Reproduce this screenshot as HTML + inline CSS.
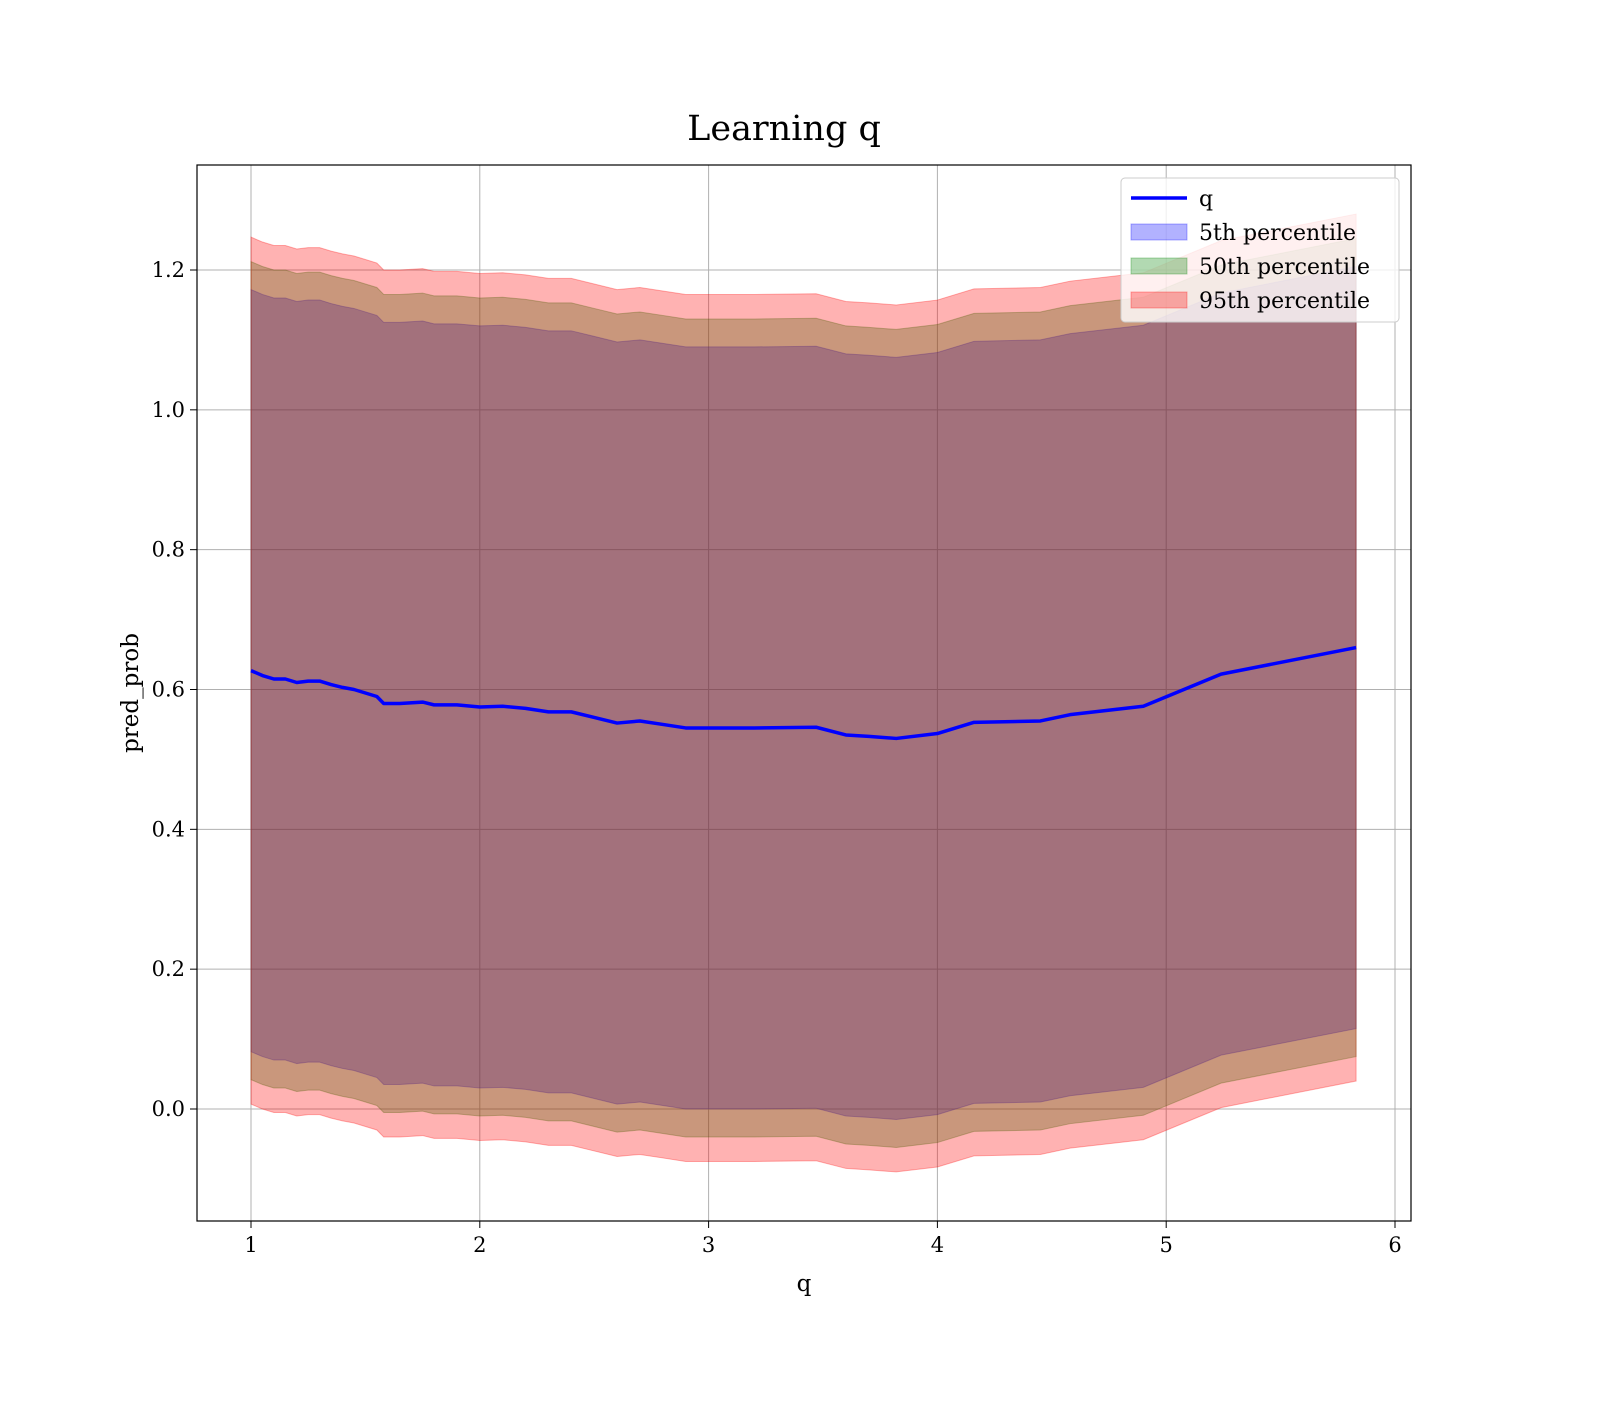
<!DOCTYPE html>
<html><head><meta charset="utf-8"><style>
html,body{margin:0;padding:0;background:#fff;}
svg text{font-family:"DejaVu Serif","Liberation Serif",serif;}
</style></head><body>
<svg id="chart" width="1600" height="1400" xmlns="http://www.w3.org/2000/svg">
<rect width="1600" height="1400" fill="#fff"/>
<text x="784" y="140" font-size="35" text-anchor="middle">Learning q</text>
<g id="grid"></g>
<g id="bands"></g>
<g id="line"></g>
<rect x="197" y="165" width="1214" height="1056" fill="none" stroke="#000" stroke-width="1.2"/>
<g id="ticks"></g>
<text x="804" y="1291" font-size="23" text-anchor="middle">q</text>
<text transform="translate(138,693) rotate(-90)" font-size="23" text-anchor="middle">pred_prob</text>
<g>
<rect x="1121" y="178" width="278" height="144" rx="4" fill="#fff" fill-opacity="0.8" stroke="#ccc"/>
<line x1="1131" y1="198" x2="1187" y2="198" stroke="#0000ff" stroke-width="3.5"/>
<text x="1199" y="206" font-size="22">q</text>
<rect x="1131" y="224" width="56" height="16" fill="#0000ff" fill-opacity="0.3" stroke="#0000ff" stroke-opacity="0.3"/>
<text x="1199" y="240" font-size="22">5th percentile</text>
<rect x="1131" y="258" width="56" height="16" fill="#008000" fill-opacity="0.3" stroke="#008000" stroke-opacity="0.3"/>
<text x="1199" y="274" font-size="22">50th percentile</text>
<rect x="1131" y="292" width="56" height="16" fill="#ff0000" fill-opacity="0.3" stroke="#ff0000" stroke-opacity="0.3"/>
<text x="1199" y="308" font-size="22">95th percentile</text>
</g>
</svg>
<script>
const qValues=[1.0,1.05,1.1,1.15,1.2,1.25,1.3,1.35,1.4,1.45,1.5,1.55,1.58,1.65,1.75,1.8,1.9,2.0,2.1,2.2,2.3,2.4,2.5,2.6,2.7,2.8,2.9,3.0,3.2,3.47,3.6,3.7,3.82,4.0,4.16,4.45,4.58,4.9,5.24,5.83];
const meanValues=[0.627,0.62,0.615,0.615,0.61,0.612,0.612,0.607,0.603,0.60,0.595,0.59,0.58,0.58,0.582,0.578,0.578,0.575,0.576,0.573,0.568,0.568,0.56,0.552,0.555,0.55,0.545,0.545,0.545,0.546,0.535,0.533,0.53,0.537,0.553,0.555,0.564,0.576,0.622,0.66];
const bandHalfWidths=[0.545,0.585,0.62];
const bandNames=['band-5th','band-50th','band-95th'];
const bandColors=['#0000ff','#008000','#ff0000'];
const xTicks=[1,2,3,4,5,6];
const yTicks=[0,0.2,0.4,0.6,0.8,1.0,1.2];
const yTickLabels=['0.0','0.2','0.4','0.6','0.8','1.0','1.2'];
const X=v=>251+(v-1)*228.8;
const Y=v=>1109-v*699.17;
const NS='http://www.w3.org/2000/svg';
function mk(t,a,p){const e=document.createElementNS(NS,t);for(const k in a)e.setAttribute(k,a[k]);p.appendChild(e);return e;}
const grid=document.getElementById('grid'),ticks=document.getElementById('ticks');
xTicks.forEach(t=>{
 const g=mk('line',{x1:X(t),x2:X(t),y1:165,y2:1221,stroke:'#b0b0b0','stroke-width':1},grid);
 
 
 const tk=mk('line',{x1:X(t),x2:X(t),y1:1221,y2:1228,stroke:'#000'},ticks);
 
 
 const tx=mk('text',{x:X(t),y:1252,'font-size':21,'text-anchor':'middle'},ticks);
 tx.textContent=t;
 
 
});
yTicks.forEach((t,i)=>{
 const g=mk('line',{x1:197,x2:1411,y1:Y(t),y2:Y(t),stroke:'#b0b0b0','stroke-width':1},grid);
 
 
 const tk=mk('line',{x1:190,x2:197,y1:Y(t),y2:Y(t),stroke:'#000'},ticks);
 
 
 const tx=mk('text',{x:185,y:Y(t)+7,'font-size':21,'text-anchor':'end'},ticks);
 tx.textContent=yTickLabels[i];
 
 
});
const bands=document.getElementById('bands');
bandHalfWidths.forEach((w,b)=>{
 let up=qValues.map((q,i)=>X(q)+','+Y(meanValues[i]+w));
 let lo=qValues.map((q,i)=>X(q)+','+Y(meanValues[i]-w)).reverse();
 const p=mk('polygon',{points:up.concat(lo).join(' '),fill:bandColors[b],'fill-opacity':0.3,stroke:bandColors[b],'stroke-opacity':0.3},bands);
 
 
});
const ln=mk('polyline',{points:qValues.map((q,i)=>X(q)+','+Y(meanValues[i])).join(' '),fill:'none',stroke:'#0000ff','stroke-width':3.5,'stroke-linejoin':'round'},document.getElementById('line'));


</script>
</body></html>
